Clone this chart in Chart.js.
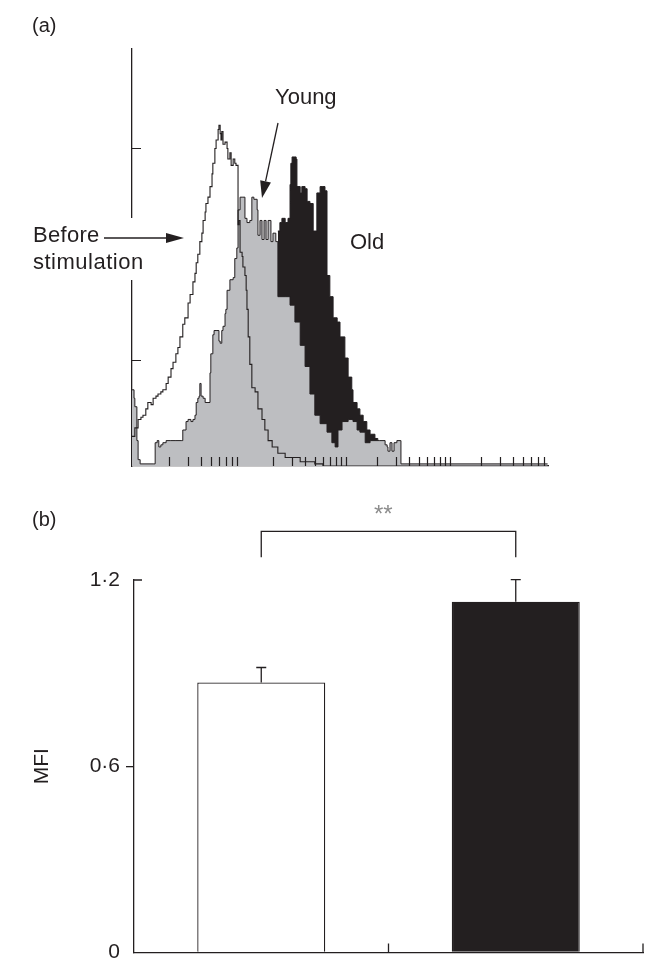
<!DOCTYPE html>
<html>
<head>
    <meta charset="utf-8">
    <title>Histogram and MFI</title>
    <script src="https://cdn.jsdelivr.net/npm/chart.js"></script>
    <style>
        html, body { margin: 0; padding: 0; background: #fff; }
        body { position: relative; width: 664px; height: 971px; overflow: hidden;
               font-family: "Liberation Sans", Arial, sans-serif; color: #231f20; }
        canvas { position: absolute; left: 0; display: block; }
        #histChart { top: 0; }
        #mfiChart { top: 480px; }
        .lbl { position: absolute; white-space: nowrap; line-height: 1; }
    </style>
</head>
<body>
<canvas id="histChart" width="664" height="480"></canvas>
<canvas id="mfiChart" width="664" height="491"></canvas>

<div class="lbl" style="left:32px; top:15px; font-size:20px;">(a)</div>
<div class="lbl" style="left:33px; top:224px; font-size:22px; letter-spacing:0.3px;">Before</div>
<div class="lbl" style="left:33px; top:251px; font-size:22px; letter-spacing:0.5px;">stimulation</div>
<div class="lbl" style="left:275px; top:86px; font-size:22px;">Young</div>
<div class="lbl" style="left:350px; top:231px; font-size:22px;">Old</div>
<div class="lbl" style="left:32px; top:509px; font-size:20px;">(b)</div>
<div class="lbl" style="left:374px; top:502px; font-size:24px; color:#8c8c8c;">**</div>

<script>
    // (a) flow cytometry histograms: channel (1024 channels over 4 log decades) vs cell count
    const beforeChannel = [0, 7, 15, 22, 27, 34, 39, 47, 52, 59, 64, 71, 76, 84, 89, 96, 101, 108, 113, 118,
        125, 130, 138, 143, 150, 155, 158, 162, 167, 172, 175, 180, 182, 187, 192, 197, 199, 204, 207, 212,
        214, 217, 219, 221, 224, 229, 234, 236, 241, 244, 249, 253, 256, 258, 261, 263, 266, 271, 273, 278,
        281, 283, 286, 290, 295, 303, 310, 320, 327, 335, 345, 359, 377, 396, 414, 431, 450, 470, 1023];
    const beforeCount = [14, 18, 22, 23, 24, 27, 30, 29, 32, 33, 34, 35, 36, 39, 42, 46, 49, 53, 56, 61,
        67, 70, 77, 81, 87, 91, 96, 100, 106, 110, 116, 120, 124, 127, 132, 138, 143, 150, 154, 159,
        161, 157, 154, 158, 152, 153, 150, 145, 148, 142, 145, 143, 142, 142, 114, 116, 101, 99, 94, 90,
        83, 74, 61, 48, 37, 35, 27, 22, 17, 12, 9, 6, 4, 4, 2, 2, 1, 0, 0];

    const youngChannel = [0, 5, 7, 12, 15, 20, 52, 57, 62, 66, 71, 76, 84, 94, 106, 121, 125, 133, 138, 145,
        150, 155, 158, 162, 165, 167, 170, 175, 180, 187, 192, 194, 199, 202, 209, 214, 217, 221, 224, 229,
        231, 234, 241, 249, 253, 258, 261, 266, 273, 278, 283, 290, 295, 300, 308, 310, 315, 320, 325, 330,
        335, 342, 347, 354, 359, 377, 389, 401, 414, 426, 438, 450, 463, 480, 492, 500, 507, 517, 532, 544,
        554, 561, 574, 586, 603, 610, 623, 628, 630, 635, 640, 645, 652, 660, 662, 1023];
    const youngCount = [36, 32, 28, 12, 3, 1, 1, 11, 12, 9, 10, 11, 12, 12, 12, 12, 17, 21, 22, 21,
        22, 24, 30, 32, 33, 39, 33, 32, 30, 30, 44, 53, 62, 64, 64, 59, 58, 64, 66, 72,
        74, 83, 88, 89, 98, 103, 121, 127, 127, 117, 115, 116, 127, 126, 121, 109, 116, 107, 116, 107,
        116, 106, 110, 106, 80, 80, 76, 68, 57, 47, 34, 24, 20, 16, 11, 9, 17, 21, 22, 21,
        17, 16, 11, 12, 12, 12, 10, 9, 7, 11, 7, 11, 12, 12, 1, 1];

    const oldChannel = [359, 364, 369, 377, 384, 389, 391, 394, 401, 404, 406, 414, 418, 426, 431, 438, 443, 446, 453, 455,
        463, 468, 475, 480, 487, 495, 505, 512, 524, 532, 541, 544, 554, 561, 569, 578, 586, 598, 605];
    const oldCount = [111, 115, 117, 115, 117, 133, 143, 146, 146, 145, 132, 129, 132, 131, 125, 124, 124, 111, 111, 129,
        132, 132, 130, 90, 80, 70, 68, 61, 51, 42, 36, 30, 27, 24, 21, 17, 15, 13, 12];

    // unlabeled axis marks of panel (a)
    const histTickValues = [2, 3, 4, 5, 6, 7, 8, 9,
        20, 30, 40, 50, 60, 70, 80, 90, 100,
        200, 300, 400, 500, 600, 700, 800, 900, 1000,
        2000, 3000, 4000, 5000, 6000, 7000, 8000];
    const countTicks = [50, 100, 150];
    const countMax = 197;

    // (b) mean fluorescence intensity
    const groups = ['Young', 'Old'];
    const mfiMean = [0.87, 1.13];
    const mfiSem = [0.048, 0.071];
    const mfiTicks = [0, 0.6, 1.2];
    const bracketLevel = 1.357;   // height of the significance bracket
    const bracketLegEnd = 1.273;

    const ink = '#231f20';
    Chart.defaults.font.family = '"Liberation Sans", Arial, sans-serif';
    Chart.defaults.color = ink;

    const decadeChannels = 256;
    const tickChannelOffset = 15;
    function channelOf(v) {
        return tickChannelOffset + decadeChannels * Math.log10(v);
    }

    function toPoints(xs, ys) {
        return xs.map((x, i) => ({x: x, y: ys[i]}));
    }

    function arrow(ctx, x1, y1, x2, y2, head, half) {
        const len = Math.hypot(x2 - x1, y2 - y1);
        const ux = (x2 - x1) / len, uy = (y2 - y1) / len;
        const bx = x2 - ux * head, by = y2 - uy * head;
        ctx.beginPath();
        ctx.moveTo(x1, y1);
        ctx.lineTo(bx, by);
        ctx.stroke();
        ctx.beginPath();
        ctx.moveTo(x2, y2);
        ctx.lineTo(bx - uy * half, by + ux * half);
        ctx.lineTo(bx + uy * half, by - ux * half);
        ctx.closePath();
        ctx.fill();
    }

    const histMarks = {
        id: 'histMarks',
        afterDraw(chart) {
            const {ctx, chartArea, scales: {x, y}} = chart;
            ctx.save();
            ctx.strokeStyle = ink;
            ctx.fillStyle = ink;
            ctx.lineWidth = 1.2;
            ctx.beginPath();
            histTickValues.forEach(v => {
                const px = Math.round(x.getPixelForValue(channelOf(v))) + 0.5;
                ctx.moveTo(px, chartArea.bottom);
                ctx.lineTo(px, chartArea.bottom - 9);
            });
            countTicks.forEach(v => {
                const py = Math.round(y.getPixelForValue(v)) + 0.5;
                ctx.moveTo(chartArea.left, py);
                ctx.lineTo(chartArea.left + 9, py);
            });
            ctx.stroke();

            // the y axis is broken behind the "Before stimulation" label
            ctx.fillStyle = '#fff';
            ctx.fillRect(chartArea.left - 3, 218, 14, 62);

            ctx.fillStyle = ink;
            ctx.lineWidth = 1.3;
            arrow(ctx, 104, 238, 184, 238, 18, 5);
            arrow(ctx, 278, 123, 262, 198, 17, 5.5);
            ctx.restore();
        }
    };

    new Chart(document.getElementById('histChart'), {
        type: 'line',
        data: {
            datasets: [{
                label: 'Before stimulation',
                data: toPoints(beforeChannel, beforeCount),
                borderColor: ink,
                borderWidth: 1.1,
                fill: false,
                stepped: true,
                pointRadius: 0
            }, {
                label: 'Young',
                data: toPoints(youngChannel, youngCount),
                borderColor: ink,
                borderWidth: 1,
                backgroundColor: '#bdbec1',
                fill: 'origin',
                stepped: true,
                pointRadius: 0
            }, {
                label: 'Old',
                data: toPoints(oldChannel, oldCount),
                borderColor: ink,
                borderWidth: 1,
                backgroundColor: ink,
                fill: 'origin',
                stepped: true,
                pointRadius: 0
            }]
        },
        options: {
            responsive: false,
            animation: false,
            layout: {padding: {left: 132, right: 116, top: 49, bottom: 14}},
            plugins: {legend: {display: false}, tooltip: {enabled: false}},
            scales: {
                x: {
                    type: 'linear', min: 0, max: 1024, z: 1,
                    ticks: {display: false},
                    grid: {display: false, drawTicks: false},
                    border: {display: true, color: ink, width: 1.3}
                },
                y: {
                    min: 0, max: countMax, z: 1,
                    ticks: {display: false},
                    grid: {display: false, drawTicks: false},
                    border: {display: true, color: ink, width: 1.3}
                }
            }
        },
        plugins: [histMarks]
    });

    const mfiMarks = {
        id: 'mfiMarks',
        afterDraw(chart) {
            const {ctx, chartArea, scales: {x, y}} = chart;
            const bars = chart.getDatasetMeta(0).data;
            ctx.save();
            ctx.strokeStyle = ink;
            ctx.lineWidth = 1.3;
            ctx.beginPath();
            // error bars (upper half only)
            bars.forEach((bar, i) => {
                const top = y.getPixelForValue(mfiMean[i] + mfiSem[i]);
                ctx.moveTo(bar.x, bar.y);
                ctx.lineTo(bar.x, top);
                ctx.moveTo(bar.x - 5, top);
                ctx.lineTo(bar.x + 5, top);
            });
            // inward tick marks
            const mid = (x.getPixelForValue(0) + x.getPixelForValue(1)) / 2;
            [mid, chartArea.right].forEach(px => {
                ctx.moveTo(px, chartArea.bottom);
                ctx.lineTo(px, chartArea.bottom - 9);
            });
            const yTop = y.getPixelForValue(mfiTicks[2]);
            ctx.moveTo(chartArea.left, yTop);
            ctx.lineTo(chartArea.left + 8, yTop);
            // significance bracket
            const yb = y.getPixelForValue(bracketLevel), yl = y.getPixelForValue(bracketLegEnd);
            ctx.moveTo(bars[0].x, yl);
            ctx.lineTo(bars[0].x, yb);
            ctx.lineTo(bars[1].x, yb);
            ctx.lineTo(bars[1].x, yl);
            ctx.stroke();
            ctx.restore();
        }
    };

    new Chart(document.getElementById('mfiChart'), {
        type: 'bar',
        data: {
            labels: groups,
            datasets: [{
                data: mfiMean,
                backgroundColor: ['#ffffff', ink],
                borderColor: ink,
                borderWidth: 1.3,
                barPercentage: 0.503,
                categoryPercentage: 1
            }]
        },
        options: {
            responsive: false,
            animation: false,
            layout: {padding: {left: 0, right: 21, top: 100, bottom: 18}},
            plugins: {legend: {display: false}, tooltip: {enabled: false}},
            scales: {
                x: {
                    ticks: {display: false},
                    grid: {display: false, drawTicks: false},
                    border: {display: true, color: ink, width: 1.3}
                },
                y: {
                    min: 0, max: 1.2,
                    afterBuildTicks: scale => { scale.ticks = mfiTicks.map(v => ({value: v})); },
                    afterFit: scale => { scale.width = 134; },
                    ticks: {
                        color: ink,
                        padding: 6,
                        font: {size: 21},
                        callback: v => v === 0 ? '0' : v.toFixed(1).replace('.', '\u00b7')
                    },
                    grid: {
                        drawOnChartArea: false,
                        drawTicks: true,
                        tickLength: 8,
                        lineWidth: 1.3,
                        color: c => (c.tick && c.tick.value === 0.6) ? ink : 'rgba(0,0,0,0)'
                    },
                    border: {display: true, color: ink, width: 1.3},
                    title: {
                        display: true,
                        text: 'MFI',
                        color: ink,
                        font: {size: 21},
                        padding: {top: 30, bottom: 0}
                    }
                }
            }
        },
        plugins: [mfiMarks]
    });
</script>
</body>
</html>
